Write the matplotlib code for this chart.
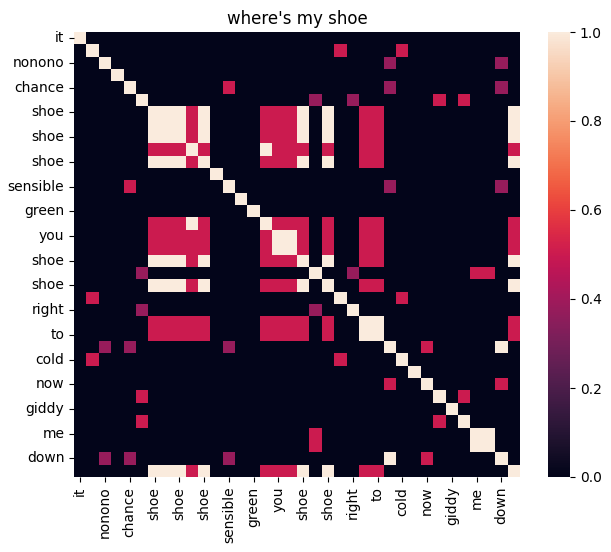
import numpy as np
import pandas as pd
import matplotlib
matplotlib.use("Agg")
import matplotlib.pyplot as plt
import seaborn as sns

words = ["it", "old", "nonono", "my", "chance", "fine", "shoe", "shoe", "shoe", "two",
         "shoe", "and", "sensible", "big", "green", "two", "you", "you", "shoe", "see",
         "shoe", "hold", "right", "to", "to", "down", "cold", "the", "now", "line",
         "giddy", "mine", "me", "me", "down", "shoe"]

# rhyme group (shoe / two / you / to): same word -> 1.0, different word -> 0.5
rhyme_group = [6, 7, 8, 9, 10, 15, 16, 17, 18, 20, 23, 24, 35]
rhyme_same = 1.0
rhyme_diff = 0.5

# other off-diagonal pairs (row, col, value), upper triangle
pairs_i = [1, 1, 21, 2, 2, 4, 4, 12, 12, 4, 25, 5, 5, 19, 5, 5, 29, 19, 19, 32, 25, 28]
pairs_j = [21, 26, 26, 25, 34, 25, 34, 25, 34, 12, 34, 19, 22, 22, 29, 31, 31, 32, 33, 33, 28, 34]
pairs_v = [0.5, 0.5, 0.5, 0.375, 0.375, 0.375, 0.375, 0.375, 0.375, 0.5, 1.0, 0.375, 0.375,
           0.375, 0.5, 0.5, 0.5, 0.5, 0.5, 1.0, 0.5, 0.5]

n = len(words)
mat = np.zeros((n, n))
for a in rhyme_group:
    for b in rhyme_group:
        mat[a, b] = rhyme_same if words[a] == words[b] else rhyme_diff
for a, b, v in zip(pairs_i, pairs_j, pairs_v):
    mat[a, b] = v
    mat[b, a] = v
np.fill_diagonal(mat, 1.0)

df = pd.DataFrame(mat, index=words, columns=words)

fig = plt.figure(figsize=(6.11, 5.52), dpi=100)
W, H = 611, 552
top, bottom = 32, 477
ax = fig.add_axes([74 / W, (H - bottom) / H, 446 / W, (bottom - top) / H])
cax = fig.add_axes([548 / W, (H - bottom) / H, 22 / W, (bottom - top) / H])

sns.heatmap(df, ax=ax, cbar_ax=cax, vmin=0, vmax=1, xticklabels=2, yticklabels=2)
ax.set_title("where's my shoe", fontsize=12)
plt.setp(ax.get_xticklabels(), rotation=90)
plt.setp(ax.get_yticklabels(), rotation=0)

fig.savefig("out.png", dpi=100)
